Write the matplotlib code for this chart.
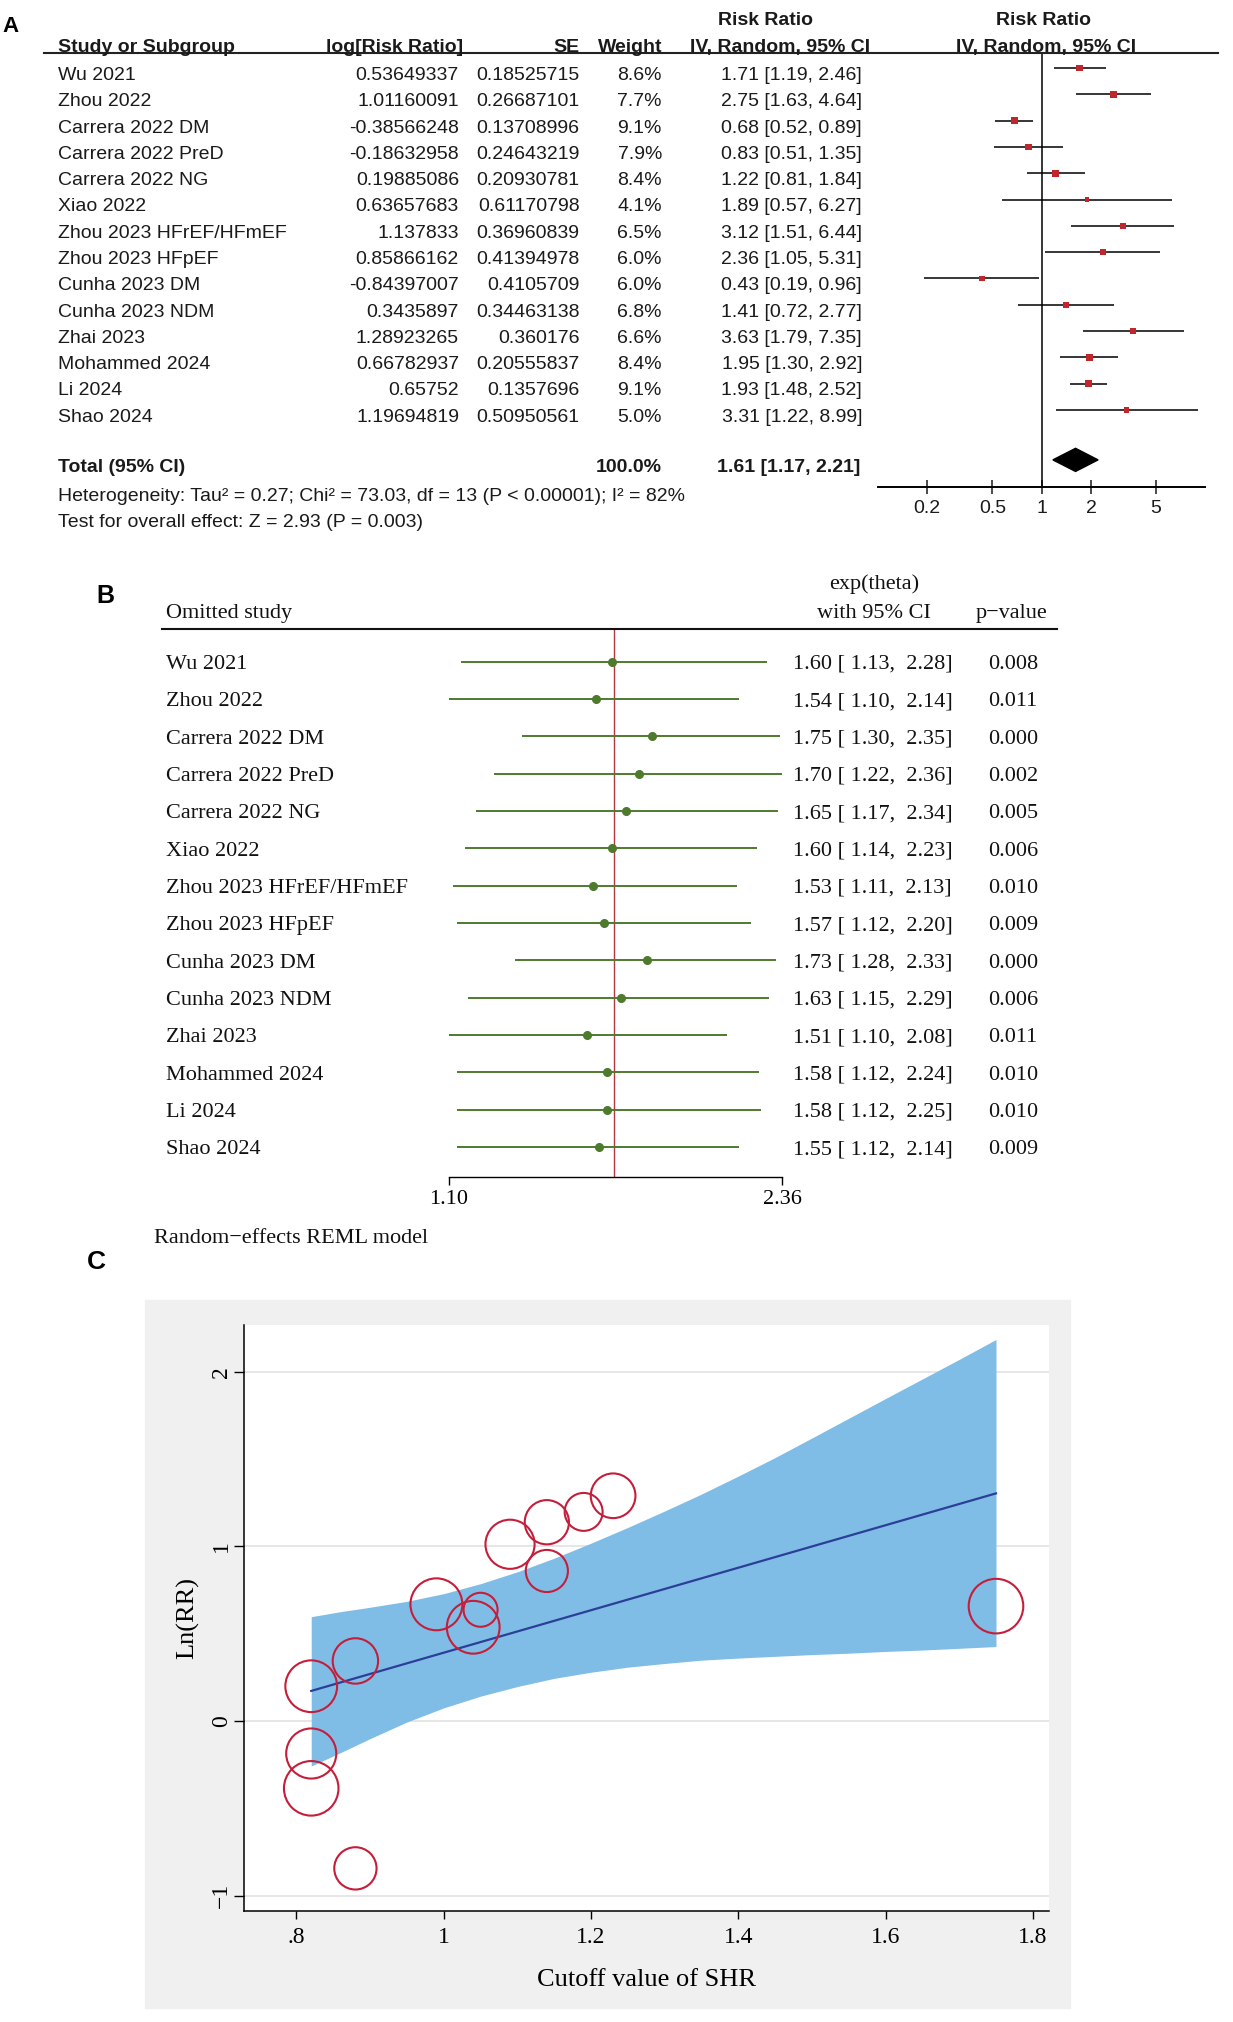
import numpy as np
import matplotlib
matplotlib.use('Agg')
import matplotlib.pyplot as plt
from matplotlib.patches import Rectangle
from matplotlib.lines import Line2D
from matplotlib.ticker import FixedLocator, FixedFormatter, NullLocator
from matplotlib.transforms import blended_transform_factory

# ---- data ----
studies = ["Wu 2021", "Zhou 2022", "Carrera 2022 DM", "Carrera 2022 PreD",
           "Carrera 2022 NG", "Xiao 2022", "Zhou 2023 HFrEF/HFmEF",
           "Zhou 2023 HFpEF", "Cunha 2023 DM", "Cunha 2023 NDM", "Zhai 2023",
           "Mohammed 2024", "Li 2024", "Shao 2024"]
log_rr = [0.53649337, 1.01160091, -0.38566248, -0.18632958, 0.19885086,
          0.63657683, 1.137833, 0.85866162, -0.84397007, 0.3435897,
          1.28923265, 0.66782937, 0.65752, 1.19694819]
se = [0.18525715, 0.26687101, 0.13708996, 0.24643219, 0.20930781,
      0.61170798, 0.36960839, 0.41394978, 0.4105709, 0.34463138,
      0.360176, 0.20555837, 0.1357696, 0.50950561]
weight = [8.6, 7.7, 9.1, 7.9, 8.4, 4.1, 6.5, 6.0, 6.0, 6.8, 6.6, 8.4, 9.1, 5.0]
total_weight = 100.0
rr = [1.71, 2.75, 0.68, 0.83, 1.22, 1.89, 3.12, 2.36, 0.43, 1.41, 3.63, 1.95, 1.93, 3.31]
rr_lo = [1.19, 1.63, 0.52, 0.51, 0.81, 0.57, 1.51, 1.05, 0.19, 0.72, 1.79, 1.30, 1.48, 1.22]
rr_hi = [2.46, 4.64, 0.89, 1.35, 1.84, 6.27, 6.44, 5.31, 0.96, 2.77, 7.35, 2.92, 2.52, 8.99]
total_rr, total_lo, total_hi = 1.61, 1.17, 2.21
heterog = "Heterogeneity: Tau² = 0.27; Chi² = 73.03, df = 13 (P < 0.00001); I² = 82%"
overall = "Test for overall effect: Z = 2.93 (P = 0.003)"

omit_est = [1.60, 1.54, 1.75, 1.70, 1.65, 1.60, 1.53, 1.57, 1.73, 1.63, 1.51, 1.58, 1.58, 1.55]
omit_lo = [1.13, 1.10, 1.30, 1.22, 1.17, 1.14, 1.11, 1.12, 1.28, 1.15, 1.10, 1.12, 1.12, 1.12]
omit_hi = [2.28, 2.14, 2.35, 2.36, 2.34, 2.23, 2.13, 2.20, 2.33, 2.29, 2.08, 2.24, 2.25, 2.14]
omit_p = ["0.008", "0.011", "0.000", "0.002", "0.005", "0.006", "0.010",
          "0.009", "0.000", "0.006", "0.011", "0.010", "0.010", "0.009"]
omit_overall = 1.605

cutoff = [1.04, 1.09, 0.82, 0.82, 0.82, 1.05, 1.14, 1.14, 0.88, 0.88, 1.23, 0.99, 1.75, 1.19]
tau2_res = 0.207
fit_x = [0.82, 1.75]
fit_y = [0.172, 1.303]
band_x = [0.82, 0.86, 0.90, 0.95, 1.00, 1.05, 1.10, 1.15, 1.20, 1.25,
          1.30, 1.35, 1.40, 1.45, 1.50, 1.55, 1.60, 1.65, 1.70, 1.75]
band_hi = [0.597, 0.626, 0.651, 0.685, 0.729, 0.786, 0.854, 0.932, 1.018, 1.108,
           1.202, 1.299, 1.402, 1.508, 1.62, 1.733, 1.846, 1.958, 2.07, 2.184]
band_lo = [-0.258, -0.181, -0.101, -0.006, 0.075, 0.142, 0.197, 0.244, 0.279, 0.308,
           0.329, 0.348, 0.360, 0.370, 0.380, 0.388, 0.398, 0.406, 0.416, 0.426]

# ---- figure ----
W, H = 1233, 2022
plt.rcParams['font.family'] = ['Liberation Sans', 'DejaVu Sans']
fig = plt.figure(figsize=(W / 100, H / 100), dpi=100)

def add_ax(l, t, r, b):
    return fig.add_axes([l / W, 1 - b / H, (r - l) / W, (b - t) / H])

def hline_px(x0, x1, y, **kw):
    fig.add_artist(Line2D([x0 / W, x1 / W], [1 - y / H, 1 - y / H],
                          transform=fig.transFigure, **kw))

red = '#c0272d'
txt = '#1a1a1a'

# ================= panel A =================
axA = add_ax(878, 52.8, 1205.4, 486.7)
axA.set_xscale('log')
axA.set_xlim(0.1, 10)
axA.set_ylim(15.92, -0.58)
for s in ['left', 'right', 'top']:
    axA.spines[s].set_visible(False)
axA.spines['bottom'].set_linewidth(1.4)
axA.set_yticks([])
axA.xaxis.set_major_locator(FixedLocator([0.2, 0.5, 1, 2, 5]))
axA.xaxis.set_major_formatter(FixedFormatter(['0.2', '0.5', '1', '2', '5']))
axA.xaxis.set_minor_locator(NullLocator())
axA.tick_params(axis='x', direction='inout', length=9.4, width=1.1, pad=4.6,
                labelsize=14, colors=txt)
axA.axvline(1, color='k', lw=1.1)
rows = np.arange(len(studies))
axA.hlines(rows, rr_lo, rr_hi, color='k', lw=1.1)
side = 7 * 0.72 * np.sqrt(np.array(weight) / 9.1)
axA.scatter(rr, rows, marker='s', s=side ** 2, color=red, zorder=3, linewidths=0)
ty = 14.9
axA.fill([total_lo, total_rr, total_hi, total_rr], [ty, ty - 0.44, ty, ty + 0.44],
         color='k', zorder=3)

tA = blended_transform_factory(fig.transFigure, axA.transData)
dA = 0.08  # text sits a little lower than the marks
def ta(xpx, y, s, **kw):
    kw.setdefault('fontsize', 14)
    kw.setdefault('color', txt)
    fig.text(xpx / W, y + dA, s, transform=tA, va='center', **kw)

hline_px(44, 1218, 52.8, color='#222222', lw=1.5)
ta(58.5, -0.88, "Study or Subgroup", fontweight='bold', ha='left')
ta(463, -0.88, "log[Risk Ratio]", fontweight='bold', ha='right')
ta(580, -0.88, "SE", fontweight='bold', ha='right')
ta(662, -0.88, "Weight", fontweight='bold', ha='right')
ta(765, -1.87, "Risk Ratio", fontweight='bold', ha='center')
ta(780, -0.88, "IV, Random, 95% CI", fontweight='bold', ha='center')
ta(1044, -1.87, "Risk Ratio", fontweight='bold', ha='center')
ta(1046, -0.88, "IV, Random, 95% CI", fontweight='bold', ha='center')
for i, name in enumerate(studies):
    y = i + 0.2
    ta(58.5, y, name, ha='left')
    ta(459, y, str(log_rr[i]), ha='right')
    ta(579.5, y, str(se[i]), ha='right')
    ta(662, y, f"{weight[i]:.1f}%", ha='right')
    ta(862, y, f"{rr[i]:.2f} [{rr_lo[i]:.2f}, {rr_hi[i]:.2f}]", ha='right')
ta(58.5, 15.1, "Total (95% CI)", fontweight='bold', ha='left')
ta(662, 15.1, f"{total_weight:.1f}%", fontweight='bold', ha='right')
ta(860, 15.1, f"{total_rr:.2f} [{total_lo:.2f}, {total_hi:.2f}]", fontweight='bold', ha='right')
ta(58.5, 16.23, heterog, ha='left')
ta(58.5, 17.21, overall, ha='left')
fig.text(10.5 / W, 1 - 26.3 / H, "A", fontsize=16, fontweight='bold', ha='center', va='center')

# ================= panel B =================
serif = ['Liberation Serif', 'DejaVu Serif']
green = '#4e7a2e'
axB = add_ax(449, 629, 782, 1177.4)
axB.set_xscale('log')
axB.set_xlim(1.10, 2.36)
axB.set_ylim(13.81, -0.879)
for s in ['left', 'right', 'top']:
    axB.spines[s].set_visible(False)
axB.spines['bottom'].set_linewidth(1.0)
axB.set_yticks([])
axB.xaxis.set_major_locator(FixedLocator([1.10, 2.36]))
axB.xaxis.set_major_formatter(FixedFormatter(['1.10', '2.36']))
axB.xaxis.set_minor_locator(NullLocator())
axB.tick_params(axis='x', direction='out', length=5.8, width=1.0, pad=3, labelsize=16)
for lab in axB.get_xticklabels():
    lab.set_family(serif)
axB.axvline(omit_overall, color='#b0393f', lw=1.0)
axB.hlines(rows, omit_lo, omit_hi, color=green, lw=1.4)
axB.plot(omit_est, rows, 'o', color=green, ms=5.5, zorder=3)

tB = blended_transform_factory(fig.transFigure, axB.transData)
dB = 0.07
def tb(xpx, y, s, **kw):
    fig.text(xpx / W, y + dB, s, transform=tB, va='center', fontsize=16,
             family=serif, color='#111111', **kw)

hline_px(162, 1057, 629, color='#111111', lw=1.5)
tb(874, -2.154, "exp(theta)", ha='center')
tb(874, -1.361, "with 95% CI", ha='center')
tb(1012, -1.361, "p\u2212value", ha='center')
tb(166, -1.361, "Omitted study", ha='left')
for i, name in enumerate(studies):
    tb(166, i, name, ha='left')
    tb(793, i, f"{omit_est[i]:.2f} [{omit_lo[i]:5.2f}, {omit_hi[i]:5.2f}]", ha='left')
    tb(988, i, omit_p[i], ha='left')
tb(154, 15.38, "Random\u2212effects REML model", ha='left')
fig.text(105 / W, 1 - 596 / H, "B", fontsize=18, fontweight='bold', ha='center', va='center')

# ================= panel C =================
fig.add_artist(Rectangle((145 / W, 1 - 2008 / H), (1070 - 145) / W, (2008 - 1300) / H,
                         transform=fig.transFigure, color='#f0f0f0', zorder=-1))
axC = add_ax(244, 1325, 1049, 1911)
axC.set_xlim(0.7287, 1.822)
axC.set_ylim(-1.088, 2.267)
axC.set_facecolor('white')
for s in ['right', 'top']:
    axC.spines[s].set_visible(False)
for s in ['left', 'bottom']:
    axC.spines[s].set_linewidth(1.1)
axC.set_yticks([-1, 0, 1, 2])
axC.set_yticklabels(['\u22121', '0', '1', '2'], rotation=90, va='center')
axC.set_xticks([0.8, 1.0, 1.2, 1.4, 1.6, 1.8])
axC.set_xticklabels(['.8', '1', '1.2', '1.4', '1.6', '1.8'])
axC.tick_params(axis='y', direction='out', length=7, width=1.0, pad=1.5, labelsize=17)
axC.tick_params(axis='x', direction='out', length=5.8, width=1.0, pad=5.8, labelsize=17)
for lab in axC.get_xticklabels() + axC.get_yticklabels():
    lab.set_family(serif)
axC.grid(axis='y', color='#e6e6e6', lw=1.4, zorder=0)
axC.set_axisbelow(True)
axC.fill_between(band_x, band_lo, band_hi, color='#80bde6', lw=0, zorder=1)
axC.plot(fit_x, fit_y, color='#2b3f98', lw=1.6, zorder=2)
w = 1 / (np.array(se) ** 2 + tau2_res)
sizes = 1545 * w / w.max()
axC.scatter(cutoff, log_rr, s=sizes, facecolors='none', edgecolors='#c41e3a',
            linewidths=1.5, zorder=3)
axC.set_xlabel("Cutoff value of SHR", family=serif, fontsize=19, va='center')
axC.xaxis.set_label_coords(0.5, -(1979.5 - 1911) / 586)
axC.set_ylabel("Ln(RR)", family=serif, fontsize=19, va='center')
axC.yaxis.set_label_coords((188 - 244) / 805, 0.5)
fig.text(96 / W, 1 - 1262 / H, "C", fontsize=19, fontweight='bold', ha='center', va='center')

fig.savefig('out.png', dpi=100)
